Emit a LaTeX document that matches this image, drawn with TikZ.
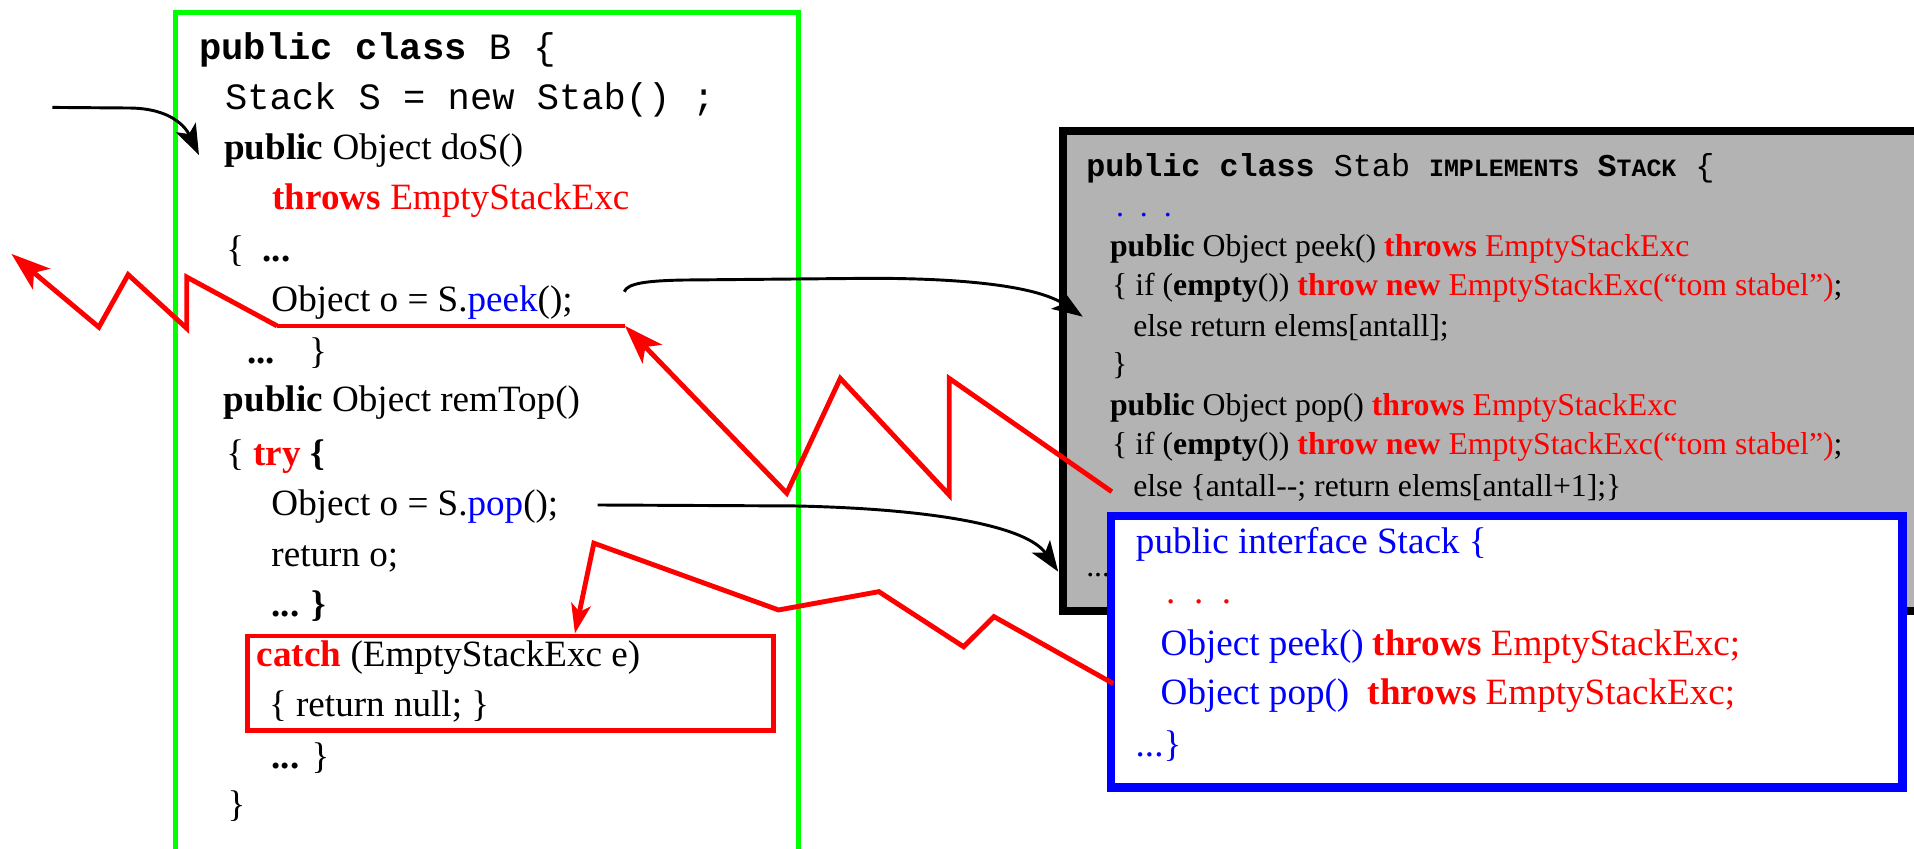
\documentclass[tikz,border=0pt]{standalone}
\usepackage{fontspec}
\setmainfont{Liberation Serif}
\setmonofont{Liberation Mono}
\usetikzlibrary{calc}
\usetikzlibrary{arrows.meta}
\usetikzlibrary{positioning}

\definecolor{exred}{RGB}{255,0,0}
\definecolor{ifblue}{RGB}{0,0,255}
\definecolor{boxgreen}{RGB}{0,255,0}
\definecolor{stabgrey}{RGB}{179,179,179}

\newcommand\ex[1]{\textcolor{exred}{#1}}
\newcommand\exkw[1]{\textcolor{exred}{\textbf{#1}}}
\newcommand\ifc[1]{\textcolor{ifblue}{#1}}
\newcommand\smallcapsbf[1]{{\fontsize{10.2}{12}\selectfont\bfseries #1}}

\tikzset{
  code/.style={anchor=base west, inner sep=0pt, font=\fontsize{15.2}{18}\selectfont},
  stabcode/.style={anchor=base west, inner sep=0pt, font=\fontsize{13}{16}\selectfont},
  call/.style={black, line width=1.2pt, -{Stealth[length=12.5pt,width=9pt,inset=3pt]}},
  thrown/.style={exred, line width=2pt, miter limit=20, -{Stealth[length=16pt,width=11pt,inset=4pt]}},
  caught/.style={thrown, -{Stealth[length=12pt,width=8pt,inset=3pt]}},
}

\begin{document}
\begin{tikzpicture}[x=0.5pt,y=-0.5pt]

\useasboundingbox (0,0) rectangle (1568,695);
\clip (0,0) rectangle (1568,695);

% class B
\draw[boxgreen, line width=2pt] (143.5,705) -- (143.5,10) -- (654.5,10) -- (654.5,705);

\node[code] (clsB) at (163,48.6) {\ttfamily\textbf{public class} B \{};
\node[code] (stackS) at (184,90) {\ttfamily Stack S = new Stab() ;};
\node[code] (doS) at (183.4,130.5) {\textbf{public} Object doS()};
\node[code] (doSthrows) at (222.8,172) {\exkw{throws} \ex{EmptyStackExc}};
\node[code] (doSopen) at (185,214) {\{\ \ \textbf{...}};
\node[code] (peekline) at (222,255) {Object o = S.\ifc{peek}();};
\node[code] (doSclose) at (202,297.6) {\textbf{...}\hspace{14pt}\}};
\node[code] (remTop) at (183,337) {\textbf{public} Object remTop()};
\node[code] (tryopen) at (185,381) {\{ \exkw{try} \textbf{\{}};
\node[code] (popline) at (222,421.9) {Object o = S.\ifc{pop}();};
\node[code] (retline) at (222,464.3) {return o;};
\node[code] (tryclose) at (222,505.2) {\textbf{... \}}};
\node[code] (catchline) at (210,546.2) {\exkw{catch} (EmptyStackExc e)};
\node[code] (nullline) at (220,587.1) {\{ return null; \}};
\node[code] (remTopclose) at (222,629.5) {\textbf{...} \}};
\node[code] (clsBclose) at (186,669) {\}};

\draw[exred, line width=2pt] (202.5,521) rectangle (634,598.7);

% class Stab
\draw[black, line width=3.3pt, fill=stabgrey] (871,107.5) rectangle (1620,500.5);

\node[stabcode] (clsStab) at (889.5,144.7) {\ttfamily\textbf{public class} Stab
  \smallcapsbf{IMPLEMENTS} \textbf{S}\smallcapsbf{TACK} \{};
\node[stabcode] (stabdots) at (914,177) {\ifc{.\ \ .\ \ .}};
\node[stabcode] (peekhead) at (909,210.3) {\textbf{public} Object peek() \exkw{throws} \ex{EmptyStackExc}};
\node[stabcode] (peekif) at (910.7,241.7) {\{ if (\textbf{empty}()) \exkw{throw new} \ex{EmptyStackExc(“tom stabel”)};};
\node[stabcode] (peekelse) at (928,275.8) {else return elems[antall];};
\node[stabcode] (peekclose) at (910.7,307.2) {\}};
\node[stabcode] (pophead) at (909,340) {\textbf{public} Object pop() \exkw{throws} \ex{EmptyStackExc}};
\node[stabcode] (popif) at (910.7,372.7) {\{ if (\textbf{empty}()) \exkw{throw new} \ex{EmptyStackExc(“tom stabel”)};};
\node[stabcode] (popelse) at (928,406.9) {else \{antall-{}-; return elems[antall+1];\}};
\node[stabcode] (stabmore) at (889.5,472) {...};

% interface Stack
\draw[ifblue, line width=3.5pt, fill=white] (910,422.6) rectangle (1558.7,645);

\node[code] (ifhead) at (930.2,453.3) {\ifc{public interface Stack \{}};
\node[code] (ifdots) at (955,494.3) {\ex{.\ \ .\ \ .}};
\node[code] (ifpeek) at (950.5,536.6) {\ifc{Object peek()} \exkw{throws} \ex{EmptyStackExc;}};
\node[code] (ifpop) at (950.5,577.5) {\ifc{Object pop()}\ \ \exkw{throws} \ex{EmptyStackExc;}};
\node[code] (ifclose) at (930,619.9) {\ifc{...\}}};

% calls
\coordinate (entry) at (43,88);
\coordinate (doS in) at ($(doS.base west)+(-20.4,-3.5)$);
\coordinate (peek out) at ($(peekline.base west)+(289.4,-16)$);
\coordinate (peek in) at ($(peekif.base west)+(-23.7,17.7)$);
\coordinate (pop out) at ($(popline.base west)+(267.5,-8.2)$);
\coordinate (pop in) at ($(stabmore.base west)+(-22.6,-3.7)$);

\draw[call] (entry) -- (107,88.5) .. controls (140,89) and (152,104) .. (doS in);
\draw[call] (peek out) .. controls (514,232) and (530,230) .. (560,229.4)
  -- (713,228) .. controls (800,228) and (852,236) .. (peek in);
\draw[call] (pop out) -- (651.8,414.5) .. controls (770,417) and (842,432) .. (pop in);

% exceptions
\coordinate (peek under w) at ($(peekline.base west)+(5,12)$);
\coordinate (peek under e) at ($(peekline.base west)+(290,12)$);
\coordinate (away) at (9.4,208);
\coordinate (pop throw) at ($(popelse.base west)+(-17.2,-4.1)$);
\coordinate (if throw) at (912,560);
\coordinate (catch in) at ($(catchline.base west)+(261,-27.3)$);

\draw[exred, line width=1.3pt] (peek under e) -- (peek under w);
\draw[thrown] (peek under w) -- (153,227) -- (153,269) -- (105,225) -- (81,268) -- (away);
\draw[thrown] (pop throw) -- (777.6,310) -- (777.6,405.5) -- (688.4,310)
  -- (644.5,404) -- (peek under e);
\draw[caught] (if throw) -- (814.3,505.2) -- (789.4,529.8) -- (720,484.7)
  -- (637.8,499.7) -- (486.5,445) -- (catch in);

\end{tikzpicture}
\end{document}
